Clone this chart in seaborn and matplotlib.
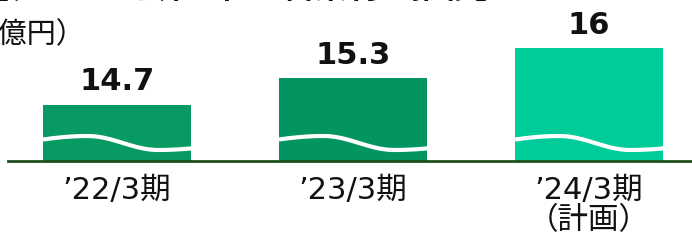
import numpy as np
import pandas as pd
import matplotlib
matplotlib.use("Agg")
import matplotlib.pyplot as plt
import seaborn as sns

# === DATOS ===
periods = ["’22/3期", "’23/3期", "’24/3期\n（計画）"]
profits = [14.7, 15.3, 16]
value_labels = ["14.7", "15.3", "16"]
bar_colors = ["#089a63", "#02955f", "#00cc99"]
title_text = "【グループ会社2社の営業利益推移】"
unit_text = "（単位：億円）"

# el eje está recortado: las barras arrancan desde esta base
base = 13.4

sns.set_theme(style="white")
plt.rcParams["font.family"] = ["Noto Sans CJK JP", "DejaVu Sans"]
latin_first = ["DejaVu Sans", "Noto Sans CJK JP"]

W, H = 692, 244
fig = plt.figure(figsize=(W / 100, H / 100), dpi=100)
ax = fig.add_axes([8 / W, 83 / H, 684 / W, 161 / H])

df = pd.DataFrame({"period": periods, "height": [p - base for p in profits]})
sns.barplot(data=df, x="period", y="height", hue="period",
            palette=bar_colors, width=0.627, legend=False, ax=ax,
            saturation=1, linewidth=0)

px_per_unit = 113 / (profits[-1] - base)
ax.set_xlim(-0.462, 2.436)
ax.set_ylim(0, 161 / px_per_unit)

# onda blanca dentro de cada barra
t = np.linspace(0, 1, 200)
wave_px = np.where(
    t < 0.3, 18 + 7 * np.cos(np.pi * (t - 0.3) / 0.9),
    np.where(t < 0.78, 18 + 7 * np.cos(np.pi * (t - 0.3) / 0.48),
             18 - 7 * np.cos(np.pi * (t - 0.78) / 1.0)))
for patch in ax.patches:
    x0 = patch.get_x()
    w = patch.get_width()
    ax.plot(x0 + t * w, wave_px / px_per_unit, color="white", lw=3,
            solid_capstyle="butt", zorder=3)

# etiquetas de valor
for container, lab in zip(ax.containers, value_labels):
    ax.bar_label(container, labels=[lab], padding=6, fontsize=22,
                 fontweight="bold", color="#111111", family=latin_first)

# ejes
for side in ["top", "right", "left"]:
    ax.spines[side].set_visible(False)
ax.spines["bottom"].set_color("#1f4e1f")
ax.spines["bottom"].set_linewidth(2)
ax.set_yticks([])
ax.set_xlabel("")
ax.set_ylabel("")
ax.set_xticks(range(len(periods)))
ax.set_xticklabels(periods, fontsize=22, color="#111111", linespacing=1.05,
                   family=latin_first)
ax.tick_params(axis="x", length=0, pad=11)

# textos de cabecera (recortados en la imagen original)
fig.text(508 / W, 1 + 2 / H, title_text, ha="right", va="baseline",
         fontsize=23, fontweight="bold", color="#111111")
fig.text(86 / W, 1 - 43 / H, unit_text, ha="right", va="baseline",
         fontsize=21, color="#111111")

fig.savefig("out.png", dpi=100)
